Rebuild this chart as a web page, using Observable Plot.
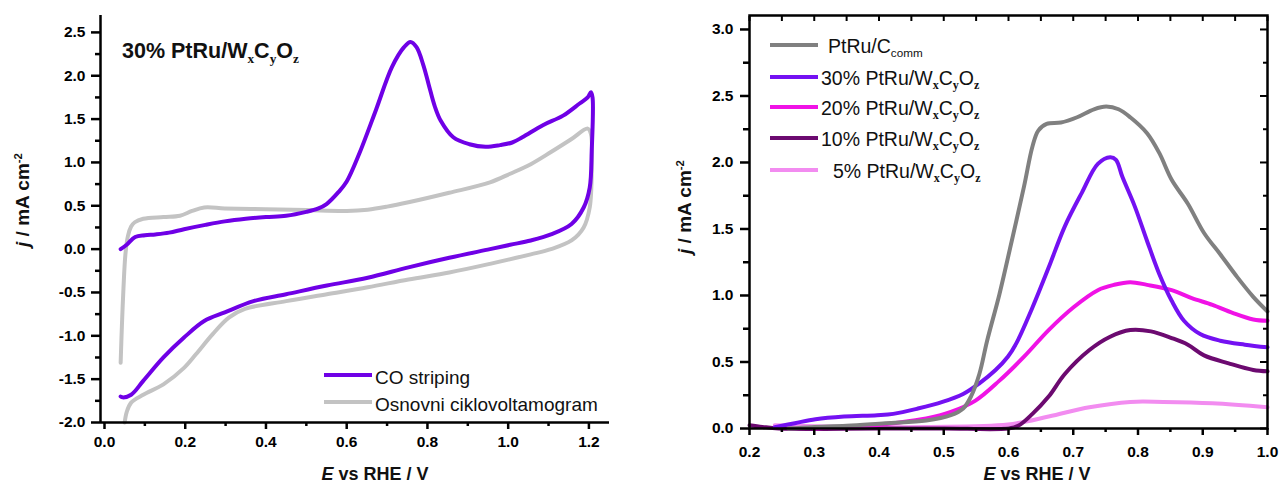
<!DOCTYPE html>
<html><head><meta charset="utf-8">
<script src="https://cdn.jsdelivr.net/npm/d3@7"></script>
<script src="https://cdn.jsdelivr.net/npm/@observablehq/plot@0.6"></script>
<style>
body{margin:0;background:#fff;}
#wrap{position:relative;width:1281px;height:494px;overflow:hidden;font-family:"Liberation Sans",Arial,sans-serif;color:#111;}
.abs{position:absolute;white-space:nowrap;line-height:1;}
.sw{position:absolute;height:4px;width:48px;}
.ser{font-family:"Liberation Serif","Times New Roman",serif;font-weight:bold;}
sub{font-size:0.62em;vertical-align:-0.32em;line-height:0;}
sup{font-size:0.6em;vertical-align:0.55em;line-height:0;}
#left,#right{position:absolute;top:0;}
#left{left:0;} #right{left:640px;}
</style></head>
<body>
<div id="wrap">
  <div id="left"></div>
  <div id="right"></div>
</div>
<script>
// ---------- data ----------
// Left panel: cyclic voltammograms, [E (V vs RHE), j (mA cm^-2)]
const coStripping = [
[0.040,0.00],[0.055,0.05],[0.076,0.14],[0.10,0.16],[0.126,0.17],[0.16,0.19],[0.197,0.23],[0.25,0.28],[0.298,0.32],[0.35,0.35],[0.40,0.37],[0.45,0.385],[0.50,0.43],[0.53,0.47],[0.55,0.52],[0.58,0.66],[0.60,0.78],[0.631,1.10],[0.672,1.60],[0.712,2.10],[0.742,2.33],[0.758,2.39],[0.773,2.33],[0.79,2.12],[0.803,1.90],[0.818,1.65],[0.833,1.48],[0.864,1.29],[0.904,1.21],[0.944,1.18],[0.98,1.20],[1.01,1.23],[1.035,1.29],[1.086,1.43],[1.136,1.54],[1.177,1.68],[1.197,1.75],[1.205,1.81],[1.209,1.75],[1.207,1.14],[1.202,0.71],[1.187,0.48],[1.157,0.29],[1.106,0.17],[1.056,0.10],[1.005,0.05],[0.955,0.00],[0.854,-0.10],[0.753,-0.21],[0.652,-0.33],[0.551,-0.42],[0.45,-0.52],[0.369,-0.60],[0.298,-0.73],[0.247,-0.83],[0.197,-1.02],[0.146,-1.25],[0.096,-1.52],[0.066,-1.68],[0.045,-1.71],[0.040,-1.70]
];
const baseCV = [
[0.040,-1.31],[0.043,-0.90],[0.047,-0.45],[0.052,-0.05],[0.058,0.15],[0.066,0.26],[0.075,0.31],[0.096,0.35],[0.146,0.37],[0.187,0.385],[0.217,0.44],[0.247,0.48],[0.298,0.47],[0.399,0.46],[0.50,0.45],[0.60,0.44],[0.652,0.455],[0.70,0.49],[0.753,0.54],[0.854,0.65],[0.955,0.77],[1.005,0.87],[1.056,0.98],[1.106,1.12],[1.157,1.27],[1.197,1.39],[1.205,1.33],[1.207,0.94],[1.202,0.48],[1.187,0.25],[1.157,0.10],[1.106,0.00],[1.056,-0.06],[0.955,-0.17],[0.854,-0.27],[0.753,-0.35],[0.652,-0.44],[0.551,-0.52],[0.45,-0.60],[0.348,-0.69],[0.308,-0.79],[0.268,-0.98],[0.227,-1.21],[0.197,-1.37],[0.146,-1.56],[0.096,-1.68],[0.066,-1.77],[0.055,-1.88],[0.050,-2.00]
];
// Right panel: CO stripping peaks
const ptRuC = [[0.26,0.0],[0.296,0.01],[0.35,0.02],[0.41,0.04],[0.473,0.06],[0.511,0.10],[0.53,0.15],[0.542,0.24],[0.555,0.41],[0.567,0.66],[0.586,1.01],[0.605,1.41],[0.624,1.82],[0.637,2.12],[0.646,2.24],[0.659,2.29],[0.681,2.30],[0.706,2.34],[0.732,2.40],[0.751,2.42],[0.77,2.40],[0.788,2.34],[0.814,2.22],[0.833,2.07],[0.852,1.87],[0.877,1.69],[0.902,1.47],[0.927,1.31],[0.953,1.14],[0.978,0.99],[1.0,0.88]];
const pt30 = [[0.239,0.01],[0.27,0.04],[0.302,0.07],[0.346,0.09],[0.397,0.10],[0.422,0.11],[0.46,0.15],[0.498,0.20],[0.53,0.26],[0.555,0.34],[0.58,0.44],[0.599,0.54],[0.612,0.64],[0.637,0.91],[0.662,1.21],[0.687,1.52],[0.713,1.77],[0.738,1.99],[0.757,2.04],[0.766,2.02],[0.776,1.89],[0.795,1.67],[0.814,1.41],[0.833,1.16],[0.852,0.96],[0.871,0.81],[0.896,0.71],[0.927,0.66],[0.965,0.63],[1.0,0.61]];
const pt20 = [[0.30,0.0],[0.384,0.02],[0.422,0.04],[0.473,0.075],[0.511,0.125],[0.549,0.21],[0.586,0.36],[0.624,0.54],[0.662,0.74],[0.70,0.91],[0.738,1.04],[0.763,1.08],[0.788,1.10],[0.814,1.08],[0.852,1.04],[0.883,0.98],[0.915,0.93],[0.946,0.87],[0.978,0.82],[1.0,0.81]];
const pt10 = [[0.20,0.025],[0.22,0.012],[0.245,0.0],[0.40,0.0],[0.50,0.0],[0.60,0.0],[0.615,0.02],[0.637,0.11],[0.662,0.24],[0.687,0.41],[0.725,0.59],[0.757,0.69],[0.788,0.74],[0.82,0.73],[0.852,0.68],[0.877,0.63],[0.902,0.55],[0.94,0.49],[0.978,0.44],[1.0,0.43]];
const pt5 = [[0.239,0.025],[0.283,0.018],[0.346,0.012],[0.473,0.012],[0.599,0.03],[0.662,0.09],[0.725,0.16],[0.788,0.20],[0.839,0.20],[0.915,0.19],[1.0,0.16]];

// tick values
const xMajorL = [0,0.2,0.4,0.6,0.8,1.0,1.2];
const xMinorL = [0.1,0.3,0.5,0.7,0.9,1.1];
const yMajorL = [-2,-1.5,-1,-0.5,0,0.5,1,1.5,2,2.5];
const yMinorL = [-1.75,-1.25,-0.75,-0.25,0.25,0.75,1.25,1.75,2.25];
const xMajorR = [0.2,0.3,0.4,0.5,0.6,0.7,0.8,0.9,1.0];
const xMinorR = [0.25,0.35,0.45,0.55,0.65,0.75,0.85,0.95];
const yMajorR = [0,0.5,1,1.5,2,2.5,3];
const yMinorR = [0.25,0.75,1.25,1.75,2.25,2.75];

const xDomL = [-0.0099, 1.251], yDomL = [-2.0, 2.695];
const xDomR = [0.2, 1.0], yDomR = [0, 3.105];

const colCO = "#6f00e6", colBase = "#c3c3c3";
const colC = "#808080", col30 = "#7411f2", col20 = "#f012e6", col10 = "#6c0a70", col5 = "#f28cf0";

const fmt = d => d.toFixed(1);
const blank = () => "";
const tf = {fontSize: 15.5, fontWeight: "bold"};
const baseStyle = {fontFamily: "'Liberation Sans', Arial, sans-serif", fontSize: "15.5px", fontWeight: "bold", background: "white", color: "black", overflow: "visible"};

const left = Plot.plot({
  width: 640, height: 494,
  marginLeft: 100, marginRight: 31, marginTop: 15, marginBottom: 72,
  style: baseStyle,
  x: {domain: xDomL}, y: {domain: yDomL},
  marks: [
    Plot.line(baseCV, {x: d => d[0], y: d => d[1], stroke: colBase, strokeWidth: 4, curve: "catmull-rom"}),
    Plot.line(coStripping, {x: d => d[0], y: d => d[1], stroke: colCO, strokeWidth: 4, curve: "catmull-rom"}),
    Plot.axisY({ticks: yMajorL, tickSize: 9, tickPadding: 6, tickFormat: fmt, stroke: "black", strokeWidth: 2.5, label: null, ...tf}),
    Plot.axisY({ticks: yMinorL, tickSize: 5, tickFormat: blank, stroke: "black", strokeWidth: 2.5, label: null}),
    Plot.axisX({ticks: xMajorL, tickSize: 7, tickPadding: 6, tickFormat: fmt, stroke: "black", strokeWidth: 2.5, label: null, ...tf}),
    Plot.axisX({ticks: xMinorL, tickSize: 4, tickFormat: blank, stroke: "black", strokeWidth: 2.5, label: null}),
    Plot.ruleX([xDomL[0]], {stroke: "black", strokeWidth: 2.5}),
    Plot.ruleY([yDomL[0]], {stroke: "black", strokeWidth: 2.5})
  ]
});
document.getElementById("left").appendChild(left);

const right = Plot.plot({
  width: 641, height: 494,
  marginLeft: 109, marginRight: 14, marginTop: 15, marginBottom: 66,
  style: baseStyle,
  x: {domain: xDomR}, y: {domain: yDomR},
  marks: [
    Plot.line(pt5, {x: d => d[0], y: d => d[1], stroke: col5, strokeWidth: 4, curve: "catmull-rom"}),
    Plot.line(pt10, {x: d => d[0], y: d => d[1], stroke: col10, strokeWidth: 4, curve: "catmull-rom"}),
    Plot.line(pt20, {x: d => d[0], y: d => d[1], stroke: col20, strokeWidth: 4, curve: "catmull-rom"}),
    Plot.line(pt30, {x: d => d[0], y: d => d[1], stroke: col30, strokeWidth: 4, curve: "catmull-rom"}),
    Plot.line(ptRuC, {x: d => d[0], y: d => d[1], stroke: colC, strokeWidth: 4, curve: "catmull-rom"}),
    Plot.axisY({ticks: yMajorR, tickSize: 9, tickPadding: 7, tickFormat: fmt, stroke: "black", strokeWidth: 2.5, label: null, ...tf}),
    Plot.axisY({ticks: yMinorR, tickSize: 6, tickFormat: blank, stroke: "black", strokeWidth: 2.5, label: null}),
    Plot.axisY({anchor: "right", ticks: yMajorR, tickSize: -8, tickFormat: blank, stroke: "black", strokeWidth: 2, label: null}),
    Plot.axisY({anchor: "right", ticks: yMinorR, tickSize: -5, tickFormat: blank, stroke: "black", strokeWidth: 2, label: null}),
    Plot.axisX({ticks: xMajorR, tickSize: 7, tickPadding: 10, tickFormat: fmt, stroke: "black", strokeWidth: 2.5, label: null, ...tf}),
    Plot.axisX({ticks: xMinorR, tickSize: 4, tickFormat: blank, stroke: "black", strokeWidth: 2.5, label: null}),
    Plot.axisX({anchor: "top", ticks: xMajorR.concat(xMinorR), tickSize: -5, tickFormat: blank, stroke: "black", strokeWidth: 2, label: null}),
    Plot.frame({stroke: "black", strokeWidth: 2.5})
  ]
});
document.getElementById("right").appendChild(right);

// ---------- titles, axis labels, legends (HTML text) ----------
const wrap = document.getElementById("wrap");
function addText(html, x, y, css) {
  const el = document.createElement("div");
  el.className = "abs";
  el.innerHTML = html;
  el.style.left = x + "px"; el.style.top = y + "px";
  Object.assign(el.style, css || {});
  wrap.appendChild(el);
  return el;
}
function addSwatch(x, y, color) {
  const el = document.createElement("div");
  el.className = "sw";
  el.style.left = x + "px"; el.style.top = (y - 2) + "px";
  el.style.background = color;
  wrap.appendChild(el);
}
const wxcyoz = 'W<sub class="ser">x</sub>C<sub class="ser">y</sub>O<sub class="ser">z</sub>';

addText('30% PtRu/' + wxcyoz, 122, 52, {fontSize: "21.5px", fontWeight: "bold", transform: "translateY(-50%)"});

const xTitle = '<i>E</i> vs RHE / V';
addText(xTitle, 375, 474, {fontSize: "18px", fontWeight: "bold", transform: "translate(-50%,-50%)"});
addText(xTitle, 1037, 474, {fontSize: "18px", fontWeight: "bold", transform: "translate(-50%,-50%)"});
const yTitle = '<i>j</i> / mA cm<sup>-2</sup>';
addText(yTitle, 22, 200, {fontSize: "19px", fontWeight: "bold", transform: "translate(-50%,-50%) rotate(-90deg)"});
addText(yTitle, 684, 207, {fontSize: "19px", fontWeight: "bold", transform: "translate(-50%,-50%) rotate(-90deg)"});

const legL = [["CO striping", colCO, 375], ["Osnovni ciklovoltamogram", colBase, 402]];
legL.forEach(([t, c, y]) => {
  addSwatch(324, y, c);
  addText(t, 375, y + 2, {fontSize: "19px", transform: "translateY(-50%)"});
});

const legR = [
  ['PtRu/C<sub style="font-size:0.6em">comm</sub>', colC, 45, 828],
  ['30% PtRu/' + wxcyoz, col30, 77, 821],
  ['20% PtRu/' + wxcyoz, col20, 107, 821],
  ['10% PtRu/' + wxcyoz, col10, 138, 821],
  ['5% PtRu/' + wxcyoz, col5, 170, 833]
];
legR.forEach(([t, c, y, tx]) => {
  addSwatch(770, y, c);
  addText(t, tx, y + 2, {fontSize: "19.5px", transform: "translateY(-50%)"});
});
</script>
</body></html>
